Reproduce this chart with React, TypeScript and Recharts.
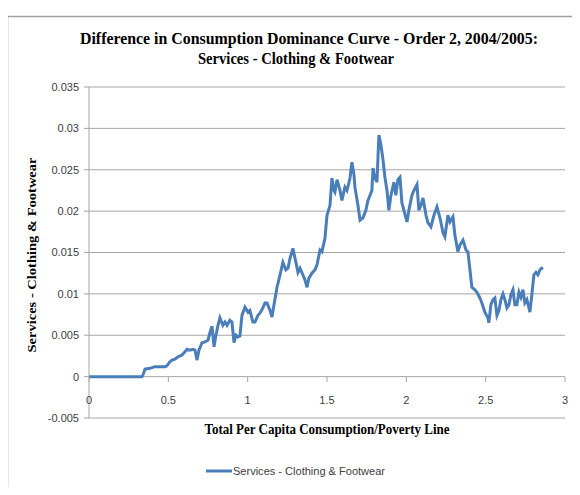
import { LineChart, Line, XAxis, YAxis, CartesianGrid } from 'recharts';

// Difference in consumption dominance curve (order 2)
const xValues = [
  0, 0.132, 0.258, 0.334, 0.34, 0.353, 0.384, 0.416, 0.447, 0.479, 0.491, 0.51, 0.523, 0.542, 0.561,
  0.586, 0.605, 0.618, 0.636, 0.655, 0.668, 0.681, 0.693, 0.712, 0.731, 0.75, 0.762, 0.775, 0.788,
  0.8, 0.813, 0.825, 0.844, 0.857, 0.87, 0.888, 0.901, 0.914, 0.926, 0.939, 0.951, 0.964, 0.983,
  1.002, 1.014, 1.033, 1.046, 1.065, 1.078, 1.096, 1.109, 1.122, 1.141, 1.153, 1.166, 1.185, 1.204,
  1.222, 1.241, 1.254, 1.267, 1.285, 1.304, 1.317, 1.33, 1.348, 1.361, 1.374, 1.386, 1.405, 1.424,
  1.437, 1.456, 1.468, 1.487, 1.5, 1.519, 1.531, 1.544, 1.55, 1.563, 1.582, 1.594, 1.613, 1.626,
  1.645, 1.657, 1.67, 1.676, 1.695, 1.708, 1.727, 1.745, 1.758, 1.771, 1.783, 1.79, 1.802, 1.815,
  1.827, 1.84, 1.853, 1.865, 1.878, 1.89, 1.903, 1.922, 1.934, 1.947, 1.96, 1.972, 1.985, 2.004,
  2.016, 2.035, 2.048, 2.067, 2.079, 2.092, 2.105, 2.124, 2.136, 2.155, 2.174, 2.193, 2.212, 2.231,
  2.243, 2.262, 2.275, 2.294, 2.306, 2.325, 2.338, 2.357, 2.376, 2.388, 2.401, 2.413, 2.432, 2.445,
  2.464, 2.476, 2.495, 2.514, 2.52, 2.533, 2.546, 2.558, 2.571, 2.584, 2.596, 2.609, 2.621, 2.634,
  2.647, 2.659, 2.672, 2.684, 2.697, 2.71, 2.722, 2.735, 2.747, 2.76, 2.779, 2.791, 2.804, 2.817,
  2.829, 2.842, 2.854, 2.861,
];

const diffValues = [
  0, 0, 0, 0, 0.0002, 0.0009, 0.001, 0.0012, 0.0012, 0.0012, 0.0013, 0.0018, 0.002, 0.0021, 0.0024,
  0.0026, 0.003, 0.0033, 0.0032, 0.0033, 0.0032, 0.002, 0.0032, 0.0041, 0.0042, 0.0044, 0.0053, 0.0061, 0.0036,
  0.005, 0.0062, 0.0071, 0.0062, 0.0066, 0.0062, 0.0068, 0.0066, 0.0041, 0.005, 0.0048, 0.0049, 0.0074, 0.0084,
  0.0078, 0.008, 0.0066, 0.0066, 0.0074, 0.0077, 0.0083, 0.0089, 0.0089, 0.008, 0.0072, 0.0087, 0.0108, 0.0123,
  0.0138, 0.0129, 0.0131, 0.0143, 0.0155, 0.0138, 0.0126, 0.0131, 0.0123, 0.0117, 0.0108, 0.0119, 0.0125, 0.0129,
  0.0135, 0.0153, 0.0151, 0.0167, 0.0195, 0.0207, 0.024, 0.0225, 0.0223, 0.0238, 0.0225, 0.0213, 0.0229, 0.0225,
  0.024, 0.0259, 0.0244, 0.0229, 0.0207, 0.0189, 0.0192, 0.0201, 0.0213, 0.0219, 0.0225, 0.0252, 0.024, 0.0235,
  0.0292, 0.028, 0.0262, 0.0241, 0.0225, 0.0201, 0.0219, 0.0235, 0.0219, 0.0238, 0.0241, 0.021, 0.0201, 0.0187,
  0.0201, 0.0219, 0.0225, 0.0232, 0.0201, 0.0207, 0.0216, 0.0195, 0.0186, 0.0181, 0.0195, 0.0205, 0.0192, 0.0174,
  0.0169, 0.0195, 0.0187, 0.0193, 0.0171, 0.0151, 0.0159, 0.0165, 0.0153, 0.0151, 0.0129, 0.0108, 0.0105, 0.0102,
  0.0095, 0.0089, 0.0078, 0.0071, 0.0065, 0.0087, 0.0093, 0.0095, 0.0074, 0.008, 0.0093, 0.01, 0.0093, 0.0083,
  0.0087, 0.0099, 0.0105, 0.0087, 0.0087, 0.0102, 0.0096, 0.0105, 0.0089, 0.0093, 0.0078, 0.0099, 0.0123, 0.0126,
  0.0123, 0.0129, 0.0131, 0.0132,
];

const xTicks = [0, 0.5, 1, 1.5, 2, 2.5, 3];
const yTicks = [-0.005, 0, 0.005, 0.01, 0.015, 0.02, 0.025, 0.03, 0.035];

const seriesName = 'Services - Clothing & Footwear';
const titleLines = ['Difference in Consumption Dominance Curve - Order 2, 2004/2005:', 'Services - Clothing & Footwear'];
const xTitle = 'Total Per Capita Consumption/Poverty Line';
const yTitle = 'Services - Clothing & Footwear';

const data = xValues.map((x, i) => ({ x, value: diffValues[i] }));

const LINE_COLOR = '#4A7EBB';
const AXIS_GRAY = '#A6A6A6';
const SANS = '"Liberation Sans", Arial, sans-serif';
const SERIF = '"Liberation Serif", "Times New Roman", serif';

// x labels sit just under the zero line (axis crosses at 0), not at the plot bottom
const XTick = ({ x, y, payload }: any) => (
  <g>
    <line x1={x} x2={x} y1={y - 41} y2={y - 36} stroke={AXIS_GRAY} />
    <text x={x} y={y - 14} textAnchor="middle" fontSize={11} fill="#404040" fontFamily={SANS}>
      {String(payload.value)}
    </text>
  </g>
);

const fmtY = (v: number) => String(Number(v.toFixed(3)));

const App = () => {
  return (
    <div style={{ position: 'relative', width: 580, height: 495, margin: -8, background: '#fff' }}>
      <LineChart
        width={580}
        height={495}
        data={data}
        margin={{ top: 87, right: 15, bottom: 47, left: 29 }}
      >
        <CartesianGrid vertical={false} stroke={AXIS_GRAY} />
        <XAxis
          type="number"
          dataKey="x"
          domain={[0, 3]}
          ticks={xTicks}
          height={30}
          axisLine={false}
          tickLine={false}
          tickSize={0}
          tickMargin={0}
          tick={XTick}
          interval={0}
        />
        <YAxis
          type="number"
          domain={[-0.005, 0.035]}
          ticks={yTicks}
          width={60}
          interval={0}
          axisLine={{ stroke: AXIS_GRAY }}
          tickLine={{ stroke: AXIS_GRAY }}
          tickSize={5}
          tickMargin={5}
          tickFormatter={fmtY}
          tick={{ fontSize: 11, fill: '#404040', fontFamily: SANS }}
        />
        <Line
          type="linear"
          dataKey="value"
          name={seriesName}
          stroke={LINE_COLOR}
          strokeWidth={3}
          dot={false}
          isAnimationActive={false}
        />
      </LineChart>
      <svg
        width={580}
        height={495}
        style={{ position: 'absolute', left: 0, top: 0, pointerEvents: 'none' }}
      >
        <rect x={7.5} y={16.5} width={590} height={476} fill="none" stroke="#A0A0A0" strokeWidth={1.5} />
        <text x={309} y={44} textAnchor="middle" fontFamily={SERIF} fontWeight="bold" fontSize={16}
          textLength={458} lengthAdjust="spacingAndGlyphs">{titleLines[0]}</text>
        <text x={296} y={64} textAnchor="middle" fontFamily={SERIF} fontWeight="bold" fontSize={16}
          textLength={196} lengthAdjust="spacingAndGlyphs">{titleLines[1]}</text>
        <text x={327} y={434} textAnchor="middle" fontFamily={SERIF} fontWeight="bold" fontSize={14}
          textLength={245} lengthAdjust="spacingAndGlyphs">{xTitle}</text>
        <text x={36} y={255} transform="rotate(-90 36 255)" textAnchor="middle" fontFamily={SERIF}
          fontWeight="bold" fontSize={13} textLength={195} lengthAdjust="spacingAndGlyphs">{yTitle}</text>
        {/* legend */}
        <line x1={206} x2={232} y1={471} y2={471} stroke={LINE_COLOR} strokeWidth={3} />
        <text x={233} y={475} fontFamily={SANS} fontSize={11} fill="#404040"
          textLength={152} lengthAdjust="spacingAndGlyphs">{seriesName}</text>
      </svg>
    </div>
  );
};

export default App;
